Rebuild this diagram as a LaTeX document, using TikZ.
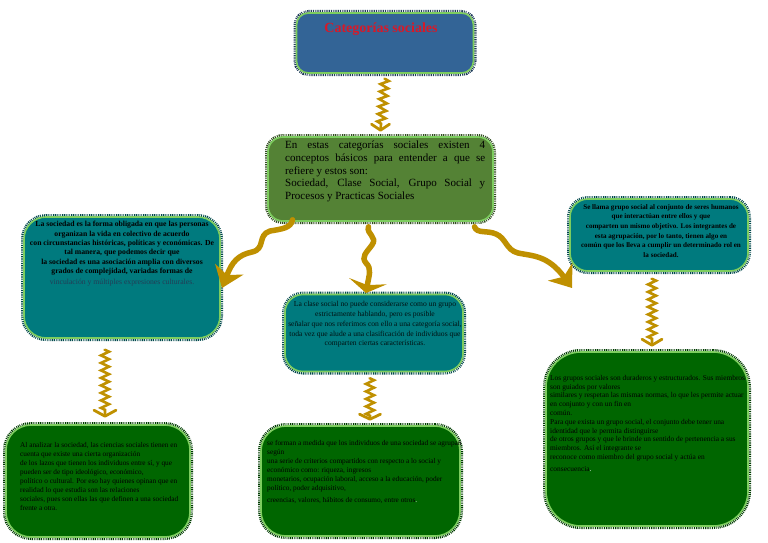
\documentclass[tikz,border=0pt]{standalone}
\usepackage{fontspec}
\setmainfont{Liberation Serif}
\usetikzlibrary{arrows.meta,decorations.pathmorphing,calc}
\definecolor{gold}{RGB}{191,144,0}
\definecolor{lgreen}{RGB}{125,205,95}
\definecolor{titlefill}{RGB}{51,100,150}
\definecolor{introfill}{RGB}{84,130,53}
\definecolor{tealfill}{RGB}{0,122,126}
\definecolor{dgreen}{RGB}{0,102,0}
\definecolor{titlered}{RGB}{215,25,40}
\definecolor{dimtext}{RGB}{35,60,85}
\tikzset{
  cbox/.style n args={4}{rectangle, rounded corners=#1, fill=#2, draw=lgreen, line width=1.6pt,
     minimum width=#3, minimum height=#4, inner sep=0pt,
     preaction={draw=white, line width=6pt},
     preaction={draw=#2!60!black, line width=6pt, dash pattern=on 0.9pt off 0.9pt}},
  zz/.style={draw=gold, line width=2.6pt, decorate,
     decoration={zigzag, segment length=7.5pt, amplitude=4pt, pre length=1pt, post length=3pt}},
  chev/.style={draw=gold, line width=2.8pt, line join=round, line cap=round},
  wave/.style={draw=gold, line width=5.5pt, line cap=round},
  smalltxt/.style={inner sep=0pt, align=left},
}
\begin{document}
\begin{tikzpicture}[x=1pt,y=-1pt]
\useasboundingbox (0,0) rectangle (768,543);

% boxes
\node[cbox={12pt}{titlefill}{177pt}{60pt}] (title) at (385,43) {};
\node[cbox={15pt}{introfill}{225pt}{84pt}] (intro) at (380.5,179) {};
\node[cbox={22pt}{tealfill}{196pt}{121pt}] (soc) at (122,277.5) {};
\node[cbox={18pt}{tealfill}{178pt}{77pt}] (clase) at (374,333) {};
\node[cbox={18pt}{tealfill}{178pt}{72pt}] (grupo) at (659,235) {};
\node[cbox={25pt}{dgreen}{184pt}{112pt}] (socd) at (98,481) {};
\node[cbox={25pt}{dgreen}{199pt}{110pt}] (clased) at (360.5,481) {};
\node[cbox={35pt}{dgreen}{202pt}{174pt}] (grupod) at (647,439) {};

% texts
\node[inner sep=0pt, text=titlered, font=\fontsize{14}{16}\selectfont\bfseries] (titletxt) at (381,29) {Categorías sociales};

\node[anchor=north west, inner sep=0pt, text width=200pt, align=justify,
      font=\fontsize{11}{12.6}\selectfont] (introtxt) at (285,141)
 {En estas categorías sociales existen 4\linebreak conceptos básicos para entender a que se\linebreak refiere y estos son:\\
 Sociedad, Clase Social, Grupo Social y\linebreak Procesos y Practicas Sociales};

\node[anchor=north, inner sep=0pt, align=center, font=\fontsize{7.7}{9.4}\selectfont] (soctxt) at (122,221)
 {\textbf{La sociedad es la forma obligada en que las personas}\\
  \textbf{organizan la vida en colectivo de acuerdo}\\
  \textbf{con circunstancias históricas, políticas y económicas. De}\\
  \textbf{tal manera, que podemos decir que}\\
  \textbf{la sociedad es una asociación amplia con diversos}\\
  \textbf{grados de complejidad, variadas formas de}\\[1pt]
  \textcolor{dimtext}{vinculación y múltiples expresiones culturales.}};

\node[anchor=north, inner sep=0pt, align=center, text=black!85!tealfill, font=\fontsize{7.6}{9.7}\selectfont] (clasetxt) at (375,301.5)
 {La clase social no puede considerarse como un grupo\\
  estrictamente hablando, pero es posible\\
  señalar que nos referimos con ello a una categoría social,\\
  toda vez que alude a una clasificación de individuos que\\
  comparten ciertas características.};

\node[anchor=north, inner sep=0pt, align=center, font=\fontsize{7.1}{9.7}\selectfont\bfseries] (grupotxt) at (661,204)
 {Se llama grupo social al conjunto de seres humanos\\
  que interactúan entre ellos y que\\
  comparten un mismo objetivo. Los integrantes de\\
  esta agrupación, por lo tanto, tienen algo en\\
  común que los lleva a cumplir un determinado rol en\\
  la sociedad.};

\node[anchor=north west, smalltxt, font=\fontsize{7.3}{9}\selectfont] (socdtxt) at (20,442)
 {Al analizar la sociedad, las ciencias sociales tienen en\\
  cuenta que existe una cierta organización\\
  de los lazos que tienen los individuos entre sí, y que\\
  pueden ser de tipo ideológico, económico,\\
  político o cultural. Por eso hay quienes opinan que en\\
  realidad lo que estudia son las relaciones\\
  sociales, pues son ellas las que definen a una sociedad\\
  frente a otra.};

\node[anchor=north west, smalltxt, font=\fontsize{7.3}{9}\selectfont] (clasedtxt) at (267,440)
 {se forman a medida que los individuos de una sociedad se agrupan\\
  según\\
  una serie de criterios compartidos con respecto a lo social y\\
  económico como: riqueza, ingresos\\
  monetarios, ocupación laboral, acceso a la educación, poder\\
  político, poder adquisitivo,\\[3pt]
  creencias, valores, hábitos de consumo, entre otros\textcolor{white}{.}};

\node[anchor=north west, smalltxt, font=\fontsize{7.4}{8.8}\selectfont] (grupodtxt) at (550,375)
 {Los grupos sociales son duraderos y estructurados. Sus miembros\\
  son guiados por valores\\
  similares y respetan las mismas normas, lo que les permite actuar\\
  en conjunto y con un fin en\\
  común.\\
  Para que exista un grupo social, el conjunto debe tener una\\
  identidad que le permita distinguirse\\
  de otros grupos y que le brinde un sentido de pertenencia a sus\\
  miembros. Así el integrante se\\
  reconoce como miembro del grupo social y actúa en\\[3pt]
  consecuencia\textcolor{white}{.}};

% zigzag arrows
\draw[zz] ([yshift=-4pt]title.south) -- ([yshift=6pt]intro.north);
\draw[chev] ([xshift=-9pt,yshift=12pt]intro.north) -- ([yshift=6pt]intro.north) -- ([xshift=9pt,yshift=12pt]intro.north);

\draw[zz] ([xshift=-17pt,yshift=-10pt]soc.south) -- ([xshift=7pt,yshift=8pt]socd.north);
\draw[chev] ([xshift=-4pt,yshift=14pt]socd.north) -- ([xshift=7pt,yshift=8pt]socd.north) -- ([xshift=18pt,yshift=14pt]socd.north);

\draw[zz] ([xshift=-4pt,yshift=-5pt]clase.south) -- ([xshift=9.5pt,yshift=6pt]clased.north);
\draw[chev] ([xshift=-1pt,yshift=11pt]clased.north) -- ([xshift=9.5pt,yshift=6pt]clased.north) -- ([xshift=20pt,yshift=11pt]clased.north);

\draw[zz] ([xshift=-7pt,yshift=-6pt]grupo.south) -- ([xshift=5pt,yshift=6pt]grupod.north);
\draw[chev] ([xshift=-5pt,yshift=12pt]grupod.north) -- ([xshift=5pt,yshift=6pt]grupod.north) -- ([xshift=15pt,yshift=12pt]grupod.north);

% wavy arrows
\draw[wave, -{Stealth[length=20pt,width=30pt,inset=6pt]}] ([xshift=-88pt,yshift=2pt]intro.south)
  .. controls (291,228) and (282,229) .. (270,231)
  .. controls (257,235) and (266,249) .. (252,252)
  .. controls (238,255) and (232,262) .. (222,288);
\draw[wave, -{Stealth[length=12pt,width=38pt,inset=4pt]}] ([xshift=-12pt,yshift=-5pt]intro.south)
  .. controls (366,234) and (378,237) .. (372,245)
  .. controls (366,253) and (361,257) .. (366,263)
  .. controls (372,269) and (369,275) .. (366,293);
\draw[wave, -{Stealth[length=20pt,width=30pt,inset=6pt]}] ([xshift=94pt,yshift=-5pt]intro.south)
  .. controls (477,234) and (487,230) .. (496,234)
  .. controls (506,238) and (506,250) .. (518,253)
  .. controls (532,256) and (548,255) .. (572,288);
\end{tikzpicture}
\end{document}
